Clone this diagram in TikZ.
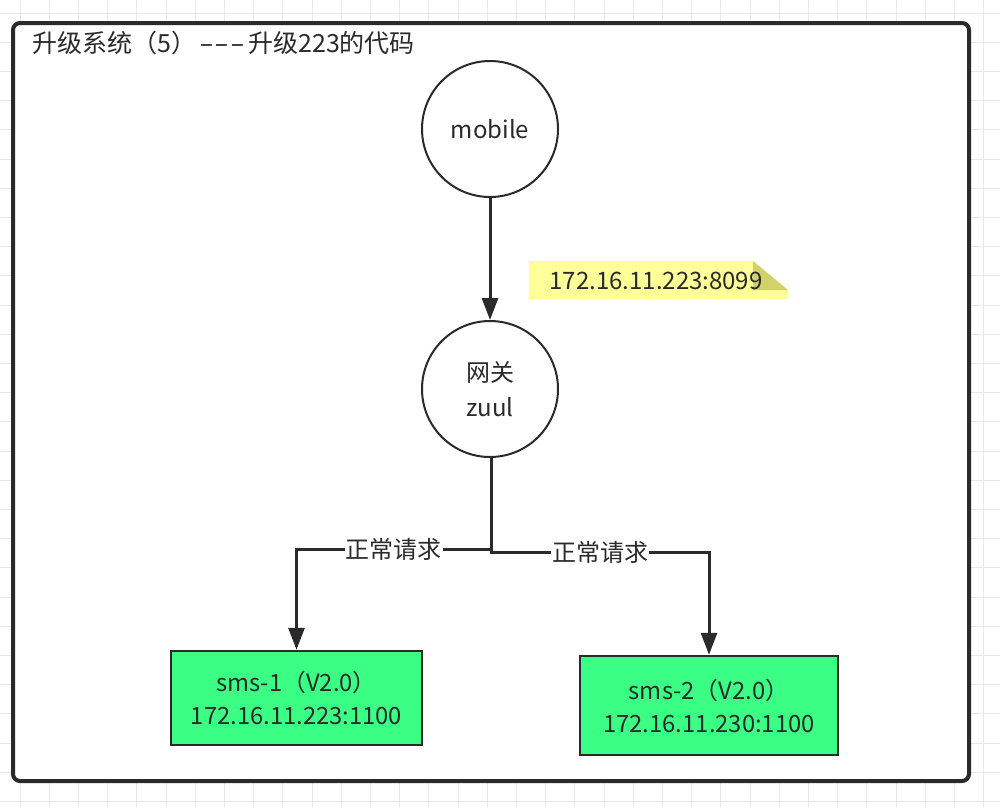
\documentclass[tikz,border=0pt]{standalone}
\usepackage{fontspec}
\usepackage{graphicx}
\setmainfont{Noto Sans CJK SC}
\newfontfamily\titlefont[AutoFakeBold=3.5]{Noto Sans CJK SC}
\usetikzlibrary{arrows.meta}
\definecolor{gridc}{HTML}{E8E8EC}
\definecolor{framec}{HTML}{2A2A2A}
\definecolor{notey}{HTML}{FFFF99}
\definecolor{notef}{HTML}{D2D26A}
\definecolor{smsg}{HTML}{3AFF84}
\definecolor{txt}{HTML}{2A2A2A}
\newcommand\widehy{\scalebox{1.7}[1]{-}}
\tikzset{
  circ/.style={circle, draw=framec, line width=2pt, minimum size=136pt, inner sep=0pt, font=\fontsize{24}{35}\selectfont, text=txt, align=center},
  smsbox/.style={rectangle, draw=framec, line width=2.5pt, fill=smsg, inner sep=0pt, font=\fontsize{23.8}{33}\selectfont, text=txt, align=center},
  conn/.style={draw=framec, line width=3pt, -{Triangle[length=22pt,width=16pt]}},
  lbl/.style={fill=white, inner sep=1pt, font=\fontsize{24}{26}\selectfont, text=txt},
}
\begin{document}
\begin{tikzpicture}[x=1pt,y=-1pt]
\useasboundingbox (0,0) rectangle (1000,807);
\fill[white] (0,0) rectangle (1000,807);
% grid
\foreach \i in {0,...,34} {\draw[gridc, line width=0.8pt] ({20+29.2*\i},0) -- ({20+29.2*\i},807);}
\foreach \i in {0,...,28} {\draw[gridc, line width=0.8pt] (0,{13+29.2*\i}) -- (1000,{13+29.2*\i});}
% frame
\draw[framec, line width=4pt, fill=white, rounded corners=7pt] (13,23) rectangle (969,781);
\node[anchor=west, inner sep=0pt, text=txt, font=\titlefont\fontsize{25}{28}\selectfont] (title) at (32,43) {升级系统（5）\kern3pt\widehy\kern1pt\widehy\kern1pt\widehy\kern3pt升级223的代码};
% nodes
\node[circ] (mobile) at (490,129) {mobile};
\node[circ] (zuul) at (490,389) {网关\\zuul};
% note
\fill[notey] (529,261) -- (753,261) -- (788,290) -- (788,299) -- (529,299) -- cycle;
\fill[notef] (753,261) -- (788,290) -- (753,290) -- cycle;
\node[inner sep=0pt, text=txt, font=\fontsize{24}{26}\selectfont] (note) at (656,281) {172.16.11.223:8099};
\node[smsbox, minimum width=251pt, minimum height=94pt] (sms1) at (296.5,698) {sms-1（V2.0）\\172.16.11.223:1100};
\node[smsbox, minimum width=258pt, minimum height=99pt] (sms2) at (709,705.5) {sms-2（V2.0）\\172.16.11.230:1100};
\coordinate (j1) at (491,549);
\coordinate (j2) at (491,552);
% connectors
\draw[conn] (mobile) -- (zuul);
\draw[conn] (zuul.south -| j1) -- (j1) -| node[pos=0.25, lbl] {正常请求} (sms1.north);
\draw[conn] (zuul.south -| j2) -- (j2) -| node[pos=0.25, lbl] {正常请求} (sms2.north);
\end{tikzpicture}
\end{document}
